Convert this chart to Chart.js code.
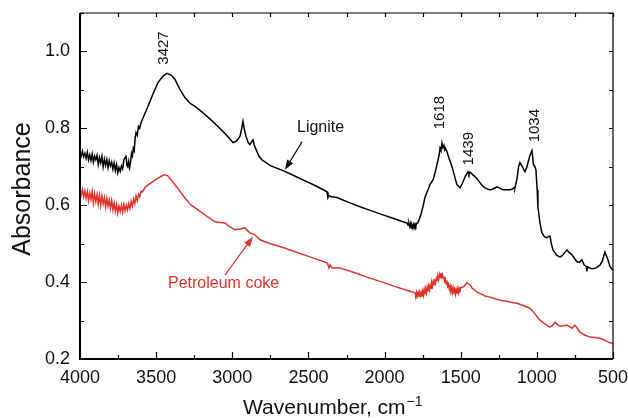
<!DOCTYPE html>
<html>
<head>
<meta charset="utf-8">
<script src="https://cdn.jsdelivr.net/npm/chart.js@4.4.1/dist/chart.umd.min.js"></script>
<style>
  body { margin: 0; background: #fff; }
  canvas { display: block; }
</style>
</head>
<body>
<canvas id="grafico" width="628" height="418"></canvas>
<script>
// FTIR spectra (wavenumber, absorbance)
const ligniteWn = [4000, 3992, 3984, 3976, 3968, 3960, 3952, 3944, 3936, 3928, 3920, 3912, 3904, 3896, 3888, 3880, 3872, 3864, 3856, 3848, 3840, 3832, 3824, 3816, 3808, 3800, 3792, 3784, 3776, 3768, 3760, 3752, 3744, 3736, 3728, 3720, 3712, 3704, 3698, 3692, 3686, 3680, 3674, 3668, 3662, 3656, 3650, 3644, 3638, 3632, 3624, 3616, 3608, 3599, 3554, 3520, 3488, 3455, 3429, 3400, 3376, 3345, 3311, 3280, 3245, 3210, 3179, 3140, 3094, 3050, 3020, 2995, 2975, 2960, 2949, 2938, 2930, 2922, 2910, 2895, 2884, 2872, 2864, 2855, 2844, 2825, 2805, 2750, 2667, 2600, 2536, 2450, 2378, 2372, 2365, 2352, 2313, 2240, 2161, 2090, 2011, 1930, 1880, 1853, 1845, 1840, 1835, 1830, 1825, 1820, 1814, 1810, 1805, 1800, 1795, 1790, 1781, 1770, 1760, 1748, 1735, 1715, 1700, 1682, 1665, 1649, 1642, 1636, 1630, 1623, 1617, 1610, 1605, 1600, 1590, 1575, 1557, 1540, 1525, 1515, 1505, 1495, 1485, 1470, 1452, 1446, 1440, 1430, 1420, 1400, 1387, 1360, 1341, 1308, 1285, 1262, 1240, 1223, 1177, 1160, 1150, 1144, 1130, 1120, 1111, 1095, 1078, 1065, 1058, 1045, 1032, 1022, 1015, 1006, 998, 993, 980, 967, 950, 934, 925, 914, 905, 894, 870, 848, 830, 815, 802, 790, 769, 750, 737, 720, 704, 690, 675, 671, 668, 650, 632, 610, 586, 570, 553, 545, 533, 520, 500]
const ligniteAbs = [0.737, 0.728, 0.741, 0.726, 0.735, 0.722, 0.738, 0.718, 0.731, 0.716, 0.733, 0.712, 0.728, 0.718, 0.730, 0.706, 0.724, 0.710, 0.727, 0.700, 0.720, 0.704, 0.719, 0.698, 0.716, 0.702, 0.712, 0.694, 0.710, 0.690, 0.706, 0.684, 0.698, 0.688, 0.702, 0.694, 0.718, 0.724, 0.730, 0.705, 0.700, 0.714, 0.698, 0.712, 0.735, 0.728, 0.748, 0.742, 0.775, 0.789, 0.782, 0.805, 0.800, 0.815, 0.857, 0.890, 0.919, 0.936, 0.943, 0.938, 0.927, 0.902, 0.880, 0.866, 0.857, 0.846, 0.836, 0.822, 0.805, 0.787, 0.774, 0.763, 0.766, 0.773, 0.780, 0.800, 0.818, 0.800, 0.779, 0.762, 0.758, 0.766, 0.770, 0.755, 0.745, 0.728, 0.718, 0.703, 0.690, 0.678, 0.666, 0.650, 0.635, 0.620, 0.625, 0.622, 0.620, 0.608, 0.596, 0.586, 0.575, 0.564, 0.557, 0.554, 0.548, 0.553, 0.545, 0.552, 0.541, 0.548, 0.540, 0.549, 0.542, 0.551, 0.546, 0.553, 0.554, 0.566, 0.578, 0.596, 0.620, 0.640, 0.655, 0.666, 0.690, 0.718, 0.730, 0.748, 0.742, 0.762, 0.750, 0.756, 0.744, 0.748, 0.739, 0.720, 0.700, 0.675, 0.653, 0.650, 0.645, 0.652, 0.661, 0.675, 0.687, 0.680, 0.686, 0.683, 0.679, 0.672, 0.666, 0.652, 0.645, 0.640, 0.643, 0.648, 0.644, 0.640, 0.640, 0.642, 0.646, 0.645, 0.670, 0.700, 0.711, 0.700, 0.687, 0.700, 0.711, 0.730, 0.742, 0.705, 0.702, 0.692, 0.640, 0.596, 0.555, 0.528, 0.518, 0.515, 0.518, 0.520, 0.500, 0.484, 0.470, 0.465, 0.470, 0.478, 0.484, 0.478, 0.471, 0.460, 0.453, 0.452, 0.458, 0.445, 0.440, 0.428, 0.440, 0.436, 0.435, 0.437, 0.444, 0.455, 0.478, 0.470, 0.458, 0.440, 0.431]

const cokeWn = [4000, 3992, 3984, 3976, 3968, 3960, 3952, 3944, 3936, 3928, 3920, 3912, 3904, 3896, 3888, 3880, 3872, 3864, 3856, 3848, 3840, 3832, 3824, 3816, 3808, 3800, 3792, 3784, 3776, 3768, 3760, 3752, 3744, 3736, 3728, 3720, 3712, 3704, 3696, 3688, 3680, 3672, 3664, 3656, 3648, 3640, 3632, 3624, 3616, 3608, 3600, 3590, 3570, 3534, 3490, 3448, 3425, 3402, 3360, 3311, 3270, 3225, 3170, 3114, 3080, 3048, 3020, 2982, 2950, 2917, 2895, 2884, 2851, 2818, 2750, 2667, 2500, 2390, 2375, 2365, 2358, 2345, 2293, 2200, 2116, 2000, 1919, 1850, 1800, 1795, 1790, 1785, 1780, 1775, 1770, 1765, 1760, 1755, 1750, 1745, 1740, 1735, 1730, 1725, 1720, 1715, 1710, 1705, 1700, 1695, 1690, 1685, 1680, 1675, 1670, 1665, 1660, 1655, 1650, 1645, 1640, 1635, 1630, 1625, 1620, 1615, 1610, 1605, 1600, 1595, 1590, 1585, 1580, 1575, 1570, 1565, 1560, 1555, 1550, 1545, 1540, 1535, 1530, 1525, 1520, 1515, 1510, 1505, 1500, 1490, 1475, 1460, 1452, 1440, 1425, 1410, 1393, 1370, 1340, 1308, 1270, 1242, 1200, 1160, 1131, 1080, 1045, 1032, 1010, 980, 950, 914, 895, 881, 865, 848, 820, 802, 785, 769, 750, 735, 717, 690, 651, 620, 586, 560, 540, 520, 500]
const cokeAbs = [0.635, 0.626, 0.641, 0.622, 0.637, 0.618, 0.635, 0.612, 0.632, 0.615, 0.636, 0.606, 0.630, 0.610, 0.628, 0.603, 0.626, 0.600, 0.624, 0.604, 0.620, 0.596, 0.618, 0.598, 0.614, 0.592, 0.612, 0.588, 0.606, 0.584, 0.602, 0.580, 0.598, 0.584, 0.600, 0.582, 0.602, 0.586, 0.600, 0.588, 0.604, 0.592, 0.610, 0.598, 0.616, 0.604, 0.624, 0.612, 0.628, 0.622, 0.636, 0.635, 0.648, 0.658, 0.670, 0.679, 0.677, 0.666, 0.645, 0.619, 0.600, 0.588, 0.572, 0.557, 0.555, 0.554, 0.545, 0.536, 0.538, 0.541, 0.532, 0.528, 0.523, 0.510, 0.500, 0.490, 0.467, 0.452, 0.449, 0.437, 0.445, 0.437, 0.437, 0.425, 0.413, 0.398, 0.387, 0.378, 0.372, 0.366, 0.374, 0.364, 0.372, 0.362, 0.374, 0.364, 0.372, 0.362, 0.376, 0.366, 0.380, 0.368, 0.382, 0.372, 0.386, 0.376, 0.390, 0.380, 0.392, 0.384, 0.398, 0.390, 0.402, 0.394, 0.408, 0.398, 0.410, 0.404, 0.414, 0.406, 0.420, 0.412, 0.424, 0.414, 0.420, 0.410, 0.414, 0.402, 0.408, 0.396, 0.400, 0.390, 0.394, 0.382, 0.390, 0.378, 0.386, 0.372, 0.384, 0.370, 0.380, 0.368, 0.380, 0.370, 0.382, 0.372, 0.384, 0.380, 0.386, 0.386, 0.390, 0.398, 0.396, 0.394, 0.384, 0.380, 0.374, 0.370, 0.364, 0.361, 0.356, 0.353, 0.350, 0.347, 0.345, 0.338, 0.332, 0.327, 0.316, 0.301, 0.292, 0.283, 0.288, 0.296, 0.290, 0.285, 0.287, 0.288, 0.284, 0.280, 0.288, 0.280, 0.270, 0.263, 0.257, 0.256, 0.254, 0.250, 0.246, 0.242, 0.241]

const xTicks = [4000, 3500, 3000, 2500, 2000, 1500, 1000, 500]
const yTicks = [0.2, 0.4, 0.6, 0.8, 1.0]

// peak labels (rotated) and series labels with arrows, in data coordinates
const peakLabels = ["3427", "1618", "1439", "1034"]
const peakLabelWn = [3452, 1636, 1446, 1012]
const peakLabelAbs = [1.009, 0.841, 0.747, 0.807]

const seriesNames = ["Lignite", "Petroleum coke"]
const seriesColors = ["#000000", "#e0332b"]
const nameWn = [2575, 3422]
const nameAbs = [0.801, 0.395]
const arrowFromWn = [2542, 3048]
const arrowFromAbs = [0.765, 0.418]
const arrowToWn = [2654, 2864]
const arrowToAbs = [0.692, 0.518]

const pts = (xs, ys) => xs.map((x, i) => ({ x: x, y: ys[i] }))

const FONT = "'Liberation Sans', Arial, sans-serif"

// no label overhang: the plot box is set by layout padding only
function noPad(s) {
    s.paddingLeft = 0
    s.paddingRight = 0
    s.paddingTop = 0
    s.paddingBottom = 0
}

// 🖊 frame, inward ticks, labels, axis titles
const decor = {
    id: "decor",
    afterDraw(chart) {
        const ctx = chart.ctx
        const a = chart.chartArea
        const sx = chart.scales.x
        const sy = chart.scales.y
        ctx.save()
        ctx.strokeStyle = "#000"

        // frame
        ctx.lineWidth = 1.2
        ctx.beginPath()
        ctx.moveTo(a.left, a.top); ctx.lineTo(a.right, a.top); ctx.lineTo(a.right, a.bottom)
        ctx.stroke()
        ctx.lineWidth = 2
        ctx.beginPath()
        ctx.moveTo(a.left, a.top); ctx.lineTo(a.left, a.bottom); ctx.lineTo(a.right, a.bottom)
        ctx.stroke()

        // x ticks every 250
        ctx.lineWidth = 1.2
        for (let w = 500; w <= 4000; w += 250) {
            const px = Math.round(sx.getPixelForValue(w)) + 0.5
            const major = w % 500 === 0
            ctx.beginPath()
            ctx.moveTo(px, a.bottom); ctx.lineTo(px, a.bottom - (major ? 7 : 4))
            ctx.moveTo(px, a.top); ctx.lineTo(px, a.top + 4)
            ctx.stroke()
        }
        // y ticks every 0.1
        for (let k = 2; k <= 11; k++) {
            const py = Math.round(sy.getPixelForValue(k / 10)) + 0.5
            const major = k % 2 === 0
            ctx.beginPath()
            ctx.moveTo(a.left, py); ctx.lineTo(a.left + (major ? 7 : 4), py)
            ctx.moveTo(a.right, py); ctx.lineTo(a.right - 4, py)
            ctx.stroke()
        }

        // peak labels
        ctx.fillStyle = "#111"
        ctx.font = "15px " + FONT
        ctx.textAlign = "center"
        ctx.textBaseline = "middle"
        peakLabels.forEach((t, i) => {
            ctx.save()
            ctx.translate(sx.getPixelForValue(peakLabelWn[i]), sy.getPixelForValue(peakLabelAbs[i]))
            ctx.rotate(-Math.PI / 2)
            ctx.fillText(t, 0, 0)
            ctx.restore()
        })

        // series names + arrows
        ctx.font = "16px " + FONT
        ctx.textAlign = "left"
        seriesNames.forEach((t, i) => {
            ctx.fillStyle = i === 0 ? "#111" : seriesColors[i]
            ctx.fillText(t, sx.getPixelForValue(nameWn[i]), sy.getPixelForValue(nameAbs[i]))
            const x1 = sx.getPixelForValue(arrowFromWn[i]), y1 = sy.getPixelForValue(arrowFromAbs[i])
            const x2 = sx.getPixelForValue(arrowToWn[i]), y2 = sy.getPixelForValue(arrowToAbs[i])
            const ang = Math.atan2(y2 - y1, x2 - x1)
            ctx.strokeStyle = seriesColors[i]
            ctx.lineWidth = 1.2
            ctx.beginPath()
            ctx.moveTo(x1, y1)
            ctx.lineTo(x2 - 8 * Math.cos(ang), y2 - 8 * Math.sin(ang))
            ctx.stroke()
            ctx.beginPath()
            ctx.moveTo(x2, y2)
            ctx.lineTo(x2 - 10 * Math.cos(ang) + 3.5 * Math.sin(ang), y2 - 10 * Math.sin(ang) - 3.5 * Math.cos(ang))
            ctx.lineTo(x2 - 10 * Math.cos(ang) - 3.5 * Math.sin(ang), y2 - 10 * Math.sin(ang) + 3.5 * Math.cos(ang))
            ctx.closePath()
            ctx.fill()
        })

        // axis titles
        ctx.fillStyle = "#111"
        ctx.font = "25px " + FONT
        ctx.textAlign = "center"
        ctx.textBaseline = "alphabetic"
        ctx.save()
        ctx.translate(30, 189)
        ctx.rotate(-Math.PI / 2)
        ctx.fillText("Absorbance", 0, 0)
        ctx.restore()

        ctx.font = "21px " + FONT
        ctx.textAlign = "left"
        const main = "Wavenumber, cm"
        ctx.fillText(main, 243, 414)
        const wMain = ctx.measureText(main).width
        ctx.font = "14px " + FONT
        ctx.fillText("\u22121", 243 + wMain + 1, 406)
        ctx.restore()
    }
}

let chart = new Chart(document.getElementById("grafico"), {
    type: "line",
    data: {
        datasets: [{
            label: seriesNames[0],
            data: pts(ligniteWn, ligniteAbs),
            borderColor: seriesColors[0],
            borderWidth: 1.5,
            pointRadius: 0,
            fill: false
        }, {
            label: seriesNames[1],
            data: pts(cokeWn, cokeAbs),
            borderColor: seriesColors[1],
            borderWidth: 1.5,
            pointRadius: 0,
            fill: false
        }]
    },
    options: {
        responsive: false,
        animation: false,
        devicePixelRatio: 1,
        layout: { padding: { top: 13, right: 15, left: 0, bottom: 0 } },
        plugins: { legend: { display: false }, tooltip: { enabled: false } },
        scales: {
            x: {
                type: "linear",
                reverse: true,
                min: 500,
                max: 4000,
                afterFit: s => { s.height = 59; noPad(s) },
                afterBuildTicks: s => { s.ticks = xTicks.map(v => ({ value: v })) },
                grid: { display: false, drawTicks: false },
                border: { display: false },
                ticks: { color: "#111", padding: 8, maxRotation: 0, font: { size: 18, family: FONT }, callback: v => String(v) }
            },
            y: {
                min: 0.2,
                max: 1.1,
                afterFit: s => { s.width = 80; noPad(s) },
                afterBuildTicks: s => { s.ticks = yTicks.map(v => ({ value: v })) },
                grid: { display: false, drawTicks: false },
                border: { display: false },
                ticks: { color: "#111", padding: 10, font: { size: 18, family: FONT }, callback: v => v.toFixed(1) }
            }
        }
    },
    plugins: [decor]
})
</script>
</body>
</html>
